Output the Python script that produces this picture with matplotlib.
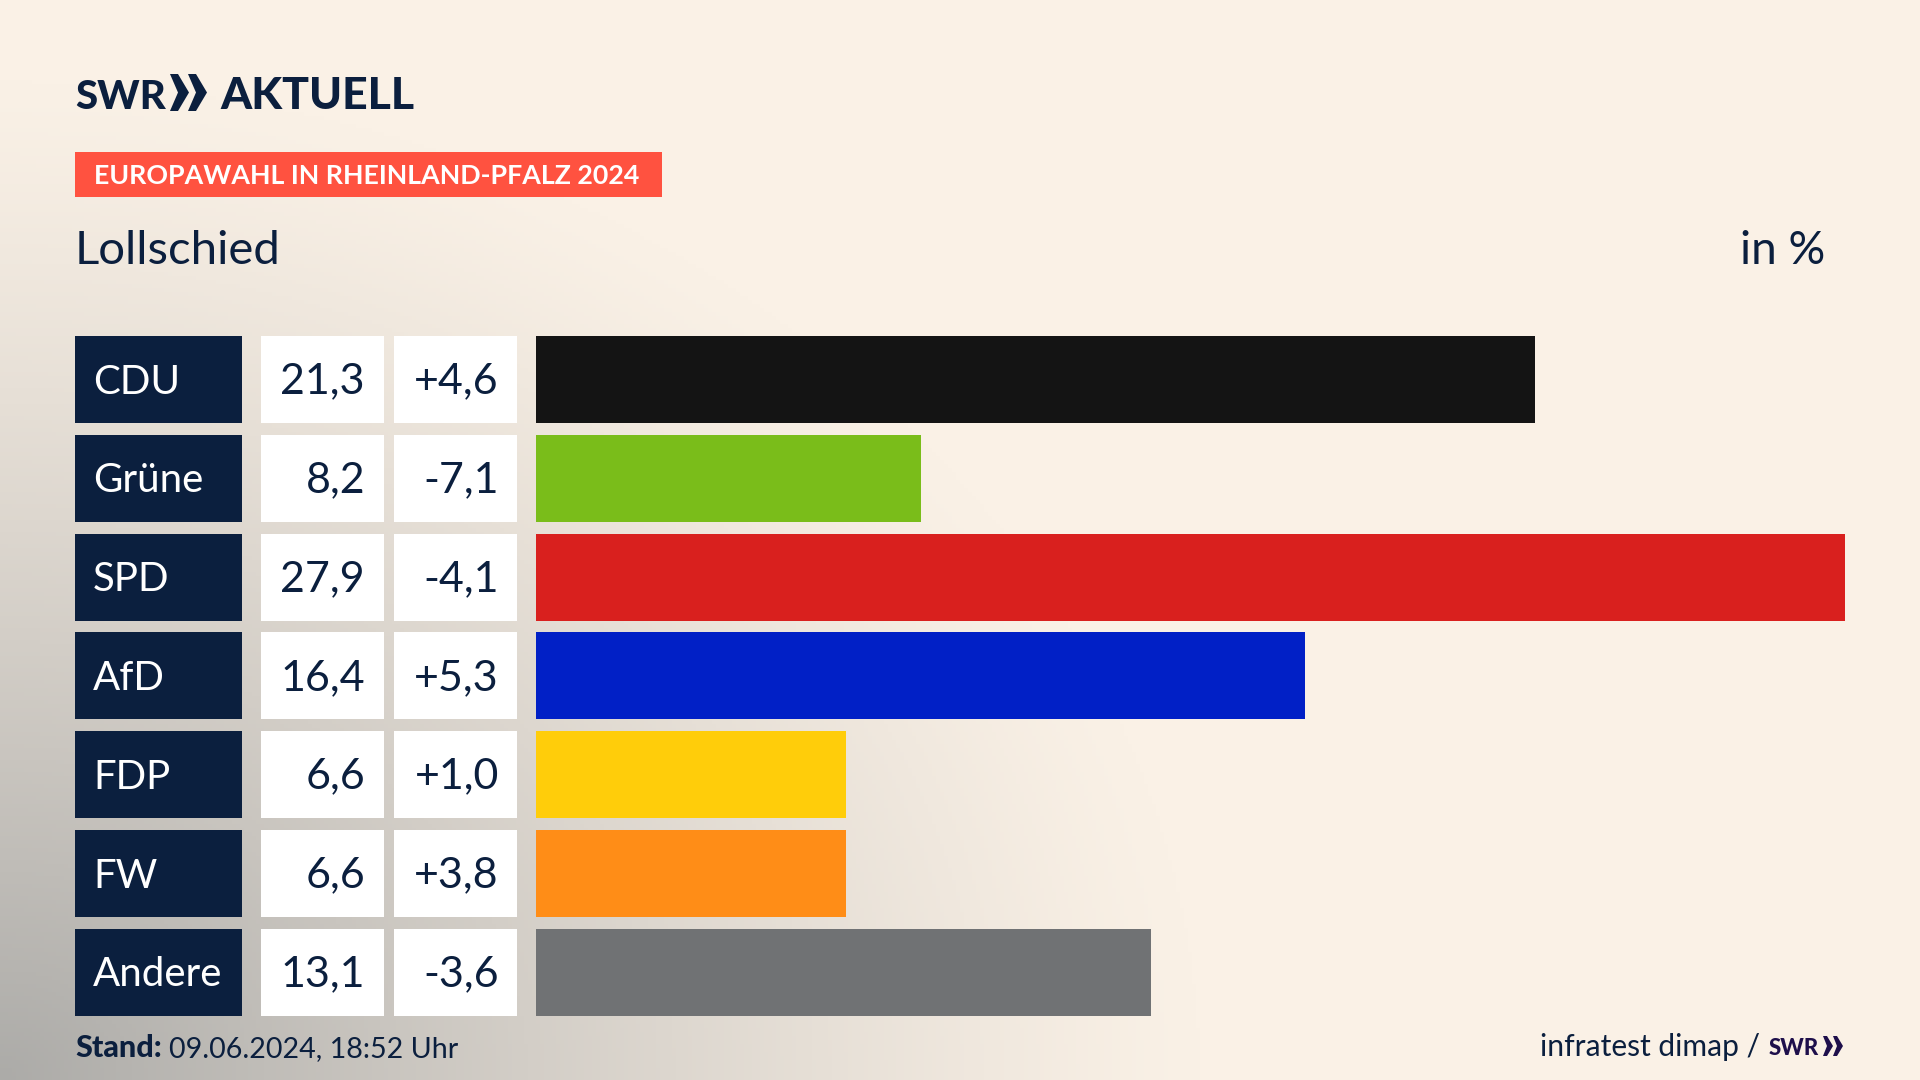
import numpy as np
import matplotlib
matplotlib.use('Agg')
import matplotlib.pyplot as plt
from matplotlib.patches import Rectangle

parties = ['CDU', 'Grüne', 'SPD', 'AfD', 'FDP', 'FW', 'Andere']
shares = [21.3, 8.2, 27.9, 16.4, 6.6, 6.6, 13.1]
changes = ['+4,6', '-7,1', '-4,1', '+5,3', '+1,0', '+3,8', '-3,6']
bar_colors = ['#141414', '#7abd1a', '#d9201e', '#0120c6', '#ffcd0a', '#ff8d17', '#707274']

navy = '#0b1f3e'
plt.rcParams['font.family'] = ['Lato', 'DejaVu Sans']

fig = plt.figure(figsize=(19.2, 10.8), dpi=100)

# whole figure in pixels, y going down
ax = fig.add_axes([0, 0, 1, 1])
ax.set_xlim(0, 1920)
ax.set_ylim(1080, 0)
ax.axis('off')

# background: cream with a grey glow from the bottom left corner
xx, yy = np.meshgrid(np.linspace(0, 1920, 480), np.linspace(0, 1080, 270))
dist = np.sqrt((xx / 1200) ** 2 + ((1080 - yy) / 1000) ** 2)
t = np.clip(1 - dist, 0, 1) ** 1.2
cream = np.array([250, 241, 230]) / 255
grey = np.array([172, 171, 168]) / 255
bg = cream + (grey - cream) * t[..., None]
ax.imshow(bg, extent=[0, 1920, 1080, 0], aspect='auto', zorder=0)
ax.set_xlim(0, 1920)
ax.set_ylim(1080, 0)

# header
ax.text(75, 109, 'SWR', fontsize=29, fontweight='black', color=navy, va='baseline')
for x0 in [170, 188]:
    ax.fill([x0, x0 + 8, x0 + 19, x0 + 8, x0, x0 + 8], [74, 74, 92.5, 111, 111, 92.5],
            color=navy, lw=0)
ax.text(220, 109, 'AKTUELL', fontsize=32, fontweight='black', color=navy, va='baseline')

ax.add_patch(Rectangle((75, 152), 587, 45, color='#ff5240', lw=0))
ax.text(94, 184, 'EUROPAWAHL IN RHEINLAND-PFALZ 2024', fontsize=19.3, fontweight='bold',
        color='white', va='baseline')

ax.text(75, 264, 'Lollschied', fontsize=34, color=navy, va='baseline')
ax.text(1825, 264, 'in %', fontsize=33, color=navy, ha='right', va='baseline')

# rows
row_top = 336
row_step = 98.8
row_h = 87
for i, party in enumerate(parties):
    y = row_top + i * row_step
    ax.add_patch(Rectangle((75, y), 167, row_h, color=navy, lw=0))
    ax.add_patch(Rectangle((261, y), 123, row_h, color='white', lw=0))
    ax.add_patch(Rectangle((394, y), 123, row_h, color='white', lw=0))
    base = y + row_h / 2 + 14
    ax.text(93, base, party, fontsize=29, color='white', va='baseline')
    ax.text(365, base, f'{shares[i]:.1f}'.replace('.', ','), fontsize=31, color=navy,
            ha='right', va='baseline')
    ax.text(499, base, changes[i], fontsize=31, color=navy, ha='right', va='baseline')

# bars on their own axes, scale 0 to the largest share
bar_ax = fig.add_axes([536 / 1920, 1 - (row_top + 6 * row_step + row_h) / 1080,
                       1309 / 1920, (6 * row_step + row_h) / 1080])
bar_ax.patch.set_alpha(0)
h = row_h / row_step
bar_ax.barh(range(len(parties)), shares, height=h, color=bar_colors)
bar_ax.set_xlim(0, max(shares))
bar_ax.set_ylim(6 + h / 2, -h / 2)
bar_ax.axis('off')

# footer
ax.text(75, 1057, 'Stand:', fontsize=22, fontweight='black', color=navy, va='baseline')
ax.text(169, 1057, '09.06.2024, 18:52 Uhr', fontsize=20.6, color=navy, va='baseline')
ax.text(1760, 1056, 'infratest dimap /', fontsize=21.6, color=navy, ha='right', va='baseline')
ax.text(1769, 1055, 'SWR', fontsize=16, fontweight='black', color='#1e0f4b', va='baseline')
for x0 in [1823, 1833]:
    ax.fill([x0, x0 + 4, x0 + 10, x0 + 4, x0, x0 + 4], [1036, 1036, 1046, 1056, 1056, 1046],
            color='#1e0f4b', lw=0)

fig.savefig('out.png', dpi=100)
